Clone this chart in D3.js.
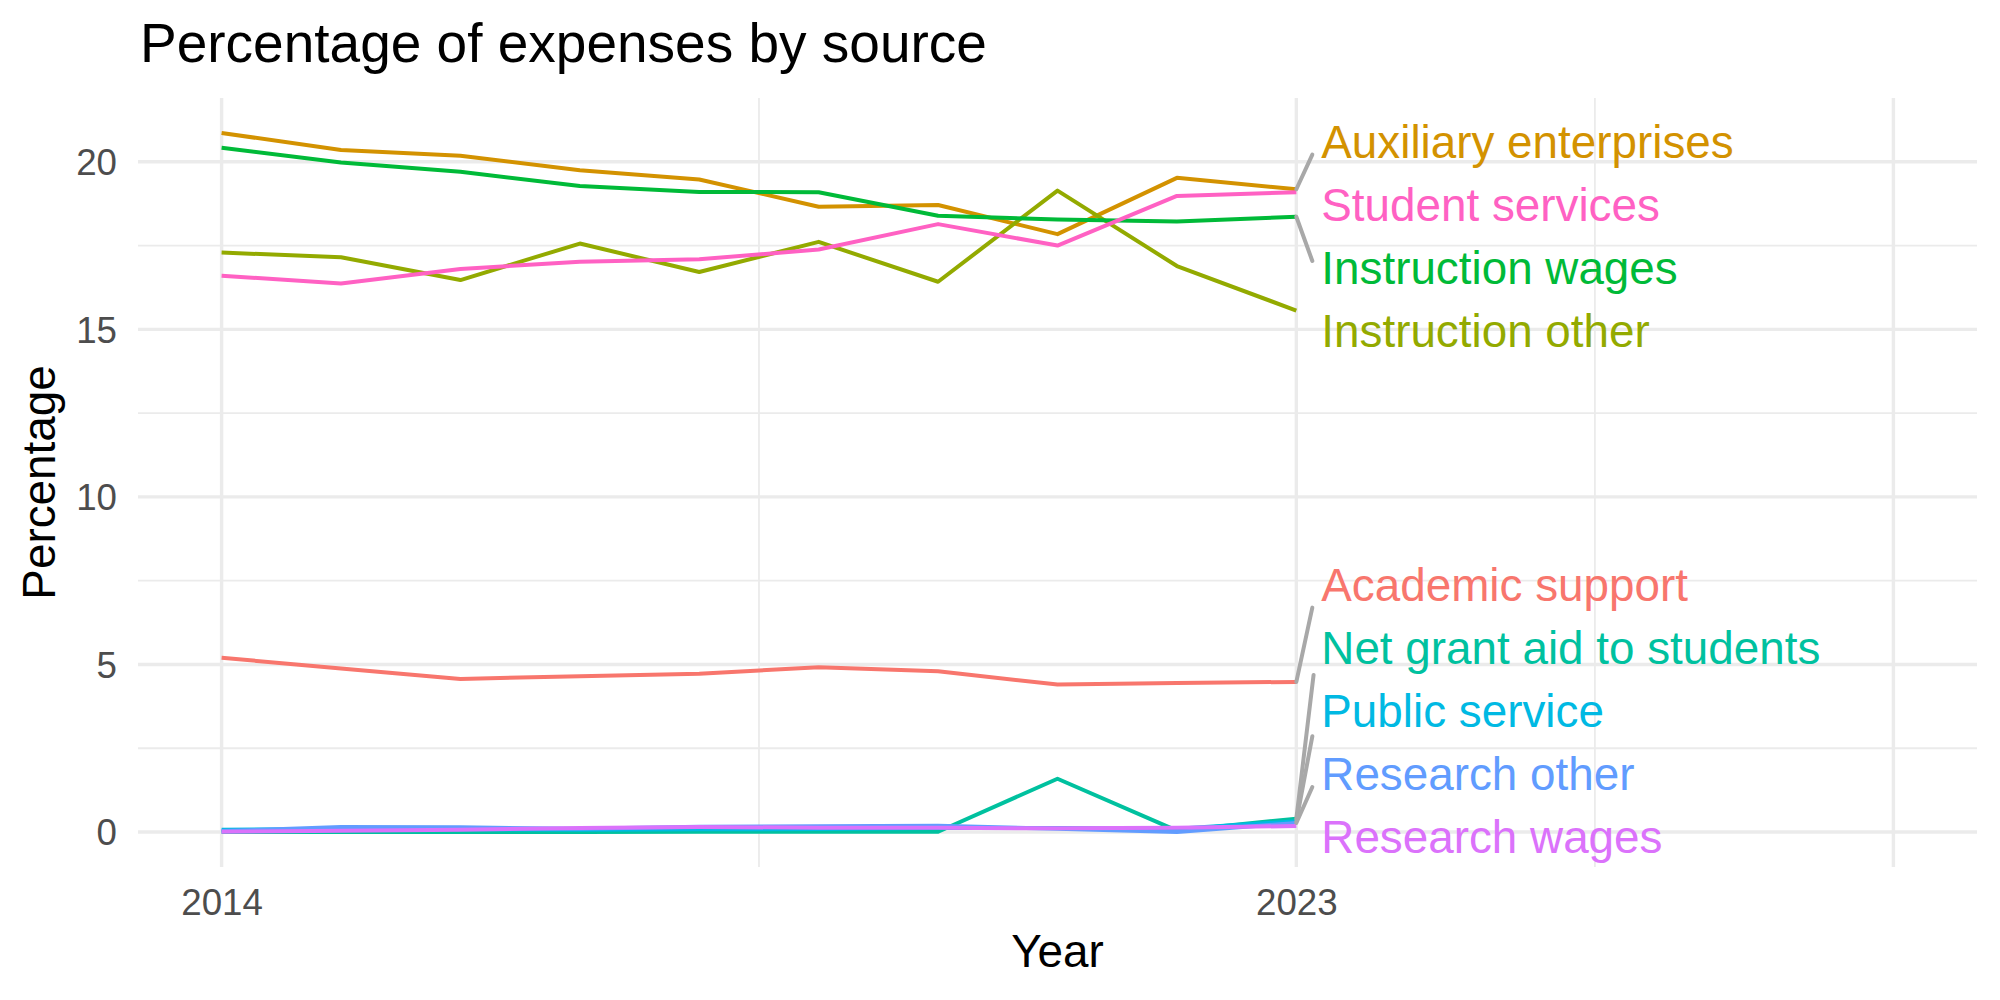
<!DOCTYPE html>
<html>
<head>
<meta charset="utf-8">
<script src="https://cdn.jsdelivr.net/npm/d3@7"></script>
<style>
    body { margin: 0; background: #fff; }
    text { font-family: "Liberation Sans", Arial, Helvetica, sans-serif; }
</style>
</head>
<body>
<svg width="2000" height="1000"></svg>
<script>
// data (percent of expenses)
const years = [2014, 2015, 2016, 2017, 2018, 2019, 2020, 2021, 2022, 2023];

const academicSupport   = [5.20, 4.88, 4.57, 4.65, 4.72, 4.92, 4.80, 4.40, 4.45, 4.48];
const auxiliary         = [20.86, 20.35, 20.18, 19.75, 19.47, 18.66, 18.71, 17.84, 19.52, 19.18];
const instructionOther  = [17.29, 17.15, 16.47, 17.56, 16.71, 17.61, 16.42, 19.14, 16.89, 15.56];
const instructionWages  = [20.42, 19.98, 19.70, 19.28, 19.10, 19.09, 18.39, 18.28, 18.22, 18.36];
const netGrantAid       = [0.00, 0.00, 0.00, 0.00, 0.01, 0.01, 0.01, 1.59, 0.04, 0.40];
const publicService     = [0.07, 0.09, 0.08, 0.07, 0.08, 0.09, 0.12, 0.12, 0.10, 0.32];
const researchOther     = [0.03, 0.15, 0.14, 0.10, 0.16, 0.17, 0.19, 0.10, 0.00, 0.27];
const researchWages     = [0.01, 0.04, 0.07, 0.12, 0.15, 0.13, 0.13, 0.11, 0.13, 0.18];
const studentServices   = [16.60, 16.37, 16.80, 17.02, 17.09, 17.38, 18.14, 17.50, 18.98, 19.09];

const sourceNames = ["Academic support", "Auxiliary enterprises", "Instruction other",
    "Instruction wages", "Net grant aid to students", "Public service",
    "Research other", "Research wages", "Student services"];
const sourceValues = [academicSupport, auxiliary, instructionOther, instructionWages,
    netGrantAid, publicService, researchOther, researchWages, studentServices];
const sourceColors = ["#F8766D", "#D39200", "#93AA00", "#00BA38", "#00C19F",
    "#00B9E3", "#619CFF", "#DB72FB", "#FF61C3"];

const xLimits = [2014, 2028];
const xBreaks = [2014, 2023, 2028];
const xLabels = ["2014", "2023", ""];
const xMinor = [2018.5, 2025.5];
const yBreaks = [0, 5, 10, 15, 20];
const yMinor = [2.5, 7.5, 12.5, 17.5];

const title = "Percentage of expenses by source";

let svg = d3.select("svg"),
    margin = {top: 98, right: 23, bottom: 133, left: 138},
    width = +svg.attr("width") - margin.left - margin.right,
    height = +svg.attr("height") - margin.top - margin.bottom;

let series = sourceNames.map((name, i) => ({
    name: name,
    color: sourceColors[i],
    values: years.map((yr, j) => ({year: yr, value: sourceValues[i][j]}))
}));

// ggplot style 5% expansion
let xPad = (xLimits[1] - xLimits[0]) * 0.05;
let x = d3.scaleLinear()
    .domain([xLimits[0] - xPad, xLimits[1] + xPad])
    .range([0, width]);

let allValues = sourceValues.flat();
let yMin = d3.min(allValues), yMax = d3.max(allValues);
let yPad = (yMax - yMin) * 0.05;
let y = d3.scaleLinear()
    .domain([yMin - yPad, yMax + yPad])
    .range([height, 0]);

let plot = svg.append("g")
    .attr("transform", `translate(${margin.left},${margin.top})`);

// grid
let grid = plot.append("g").attr("class", "grid");

grid.selectAll(".y-minor").data(yMinor).enter().append("line")
    .attr("x1", 0).attr("x2", width)
    .attr("y1", d => y(d)).attr("y2", d => y(d))
    .attr("stroke", "#EBEBEB").attr("stroke-width", 1.8);

grid.selectAll(".x-minor").data(xMinor).enter().append("line")
    .attr("y1", 0).attr("y2", height)
    .attr("x1", d => x(d)).attr("x2", d => x(d))
    .attr("stroke", "#EBEBEB").attr("stroke-width", 1.8);

grid.selectAll(".y-major").data(yBreaks).enter().append("line")
    .attr("x1", 0).attr("x2", width)
    .attr("y1", d => y(d)).attr("y2", d => y(d))
    .attr("stroke", "#EBEBEB").attr("stroke-width", 3.4);

grid.selectAll(".x-major").data(xBreaks).enter().append("line")
    .attr("y1", 0).attr("y2", height)
    .attr("x1", d => x(d)).attr("x2", d => x(d))
    .attr("stroke", "#EBEBEB").attr("stroke-width", 3.4);

// axes (ticks and domain hidden, theme_minimal)
let xAxis = plot.append("g")
    .attr("transform", `translate(0,${height})`)
    .call(d3.axisBottom(x).tickValues(xBreaks).tickFormat((d, i) => xLabels[i]).tickSize(0).tickPadding(48));

let yAxis = plot.append("g")
    .call(d3.axisLeft(y).tickValues(yBreaks).tickFormat(d3.format("d")).tickSize(0).tickPadding(21));

[xAxis, yAxis].forEach(ax => {
    ax.select(".domain").remove();
    ax.selectAll("text")
        .attr("font-family", "Liberation Sans, Arial, sans-serif")
        .attr("font-size", 36.7)
        .attr("fill", "#4D4D4D");
});
yAxis.selectAll("text").attr("dy", "0.35em");
xAxis.selectAll("text").attr("dy", 0);

// lines
let line = d3.line()
    .x(d => x(d.year))
    .y(d => y(d.value));

plot.append("g").attr("class", "lines")
    .selectAll("path")
    .data(series)
    .enter().append("path")
    .attr("d", d => line(d.values))
    .attr("fill", "none")
    .attr("stroke", d => d.color)
    .attr("stroke-width", 4)
    .attr("stroke-linejoin", "round");

// repelled end labels
let labelSize = 45.8,
    labelGap = 63,
    labelX = x(years[years.length - 1]) + 25;

let labels = series.map(s => {
    let last = s.values[s.values.length - 1];
    return {name: s.name, color: s.color, px: x(last.year), py: y(last.value)};
});
spreadLabels(labels, labelGap, 37, height - 37);

let measure = plot.append("text").attr("font-size", labelSize);
labels.forEach(d => {
    measure.text(d.name);
    d.w = measure.node().getComputedTextLength();
    d.baseline = d.cy + 23;
});
measure.remove();

let segs = plot.append("g").attr("class", "segments");
labels.forEach(d => {
    let box = {x0: labelX - 9, x1: labelX + d.w + 9, y0: d.baseline - 35, y1: d.baseline + 11};
    let cx = labelX - 5, cy = d.baseline - 12;
    let t = 0;
    if (d.px < box.x0) t = Math.max(t, (box.x0 - d.px) / (cx - d.px));
    if (d.py > box.y1) t = Math.max(t, (box.y1 - d.py) / (cy - d.py));
    if (d.py < box.y0) t = Math.max(t, (box.y0 - d.py) / (cy - d.py));
    let ex = d.px + t * (cx - d.px), ey = d.py + t * (cy - d.py);
    if (Math.hypot(ex - d.px, ey - d.py) < 27) return;
    segs.append("line")
        .attr("x1", d.px).attr("y1", d.py)
        .attr("x2", ex).attr("y2", ey)
        .attr("stroke", "#A8A8A8")
        .attr("stroke-width", 4)
        .attr("stroke-linecap", "round");
});

plot.append("g").attr("class", "labels")
    .selectAll("text")
    .data(labels)
    .enter().append("text")
    .attr("x", labelX)
    .attr("y", d => d.baseline)
    .attr("font-size", labelSize)
    .attr("fill", d => d.color)
    .text(d => d.name);

// titles
svg.append("text")
    .attr("x", margin.left + 2)
    .attr("y", 62)
    .attr("font-size", 55)
    .attr("fill", "#000")
    .text(title);

svg.append("text")
    .attr("x", margin.left + width / 2)
    .attr("y", 967)
    .attr("text-anchor", "middle")
    .attr("font-size", 45.8)
    .attr("fill", "#000")
    .text("Year");

svg.append("text")
    .attr("transform", `translate(55,${margin.top + height / 2}) rotate(-90)`)
    .attr("text-anchor", "middle")
    .attr("font-size", 45.8)
    .attr("fill", "#000")
    .text("Percentage");

// 1-d repel: keep order, enforce min gap, stay in panel
function spreadLabels(items, gap, lo, hi) {
    items.sort((a, b) => a.py - b.py);
    let blocks = [];
    items.forEach((d, i) => {
        blocks.push({sum: d.py - gap * i, n: 1});
        while (blocks.length > 1) {
            let b = blocks[blocks.length - 1], a = blocks[blocks.length - 2];
            if (a.sum / a.n <= b.sum / b.n) break;
            a.sum += b.sum; a.n += b.n;
            blocks.pop();
        }
    });
    let i = 0;
    blocks.forEach(b => {
        for (let k = 0; k < b.n; k++, i++) items[i].cy = b.sum / b.n + gap * i;
    });
    let n = items.length;
    items[n - 1].cy = Math.min(items[n - 1].cy, hi);
    for (let k = n - 2; k >= 0; k--) items[k].cy = Math.min(items[k].cy, items[k + 1].cy - gap);
    items[0].cy = Math.max(items[0].cy, lo);
    for (let k = 1; k < n; k++) items[k].cy = Math.max(items[k].cy, items[k - 1].cy + gap);
}
</script>
</body>
</html>
